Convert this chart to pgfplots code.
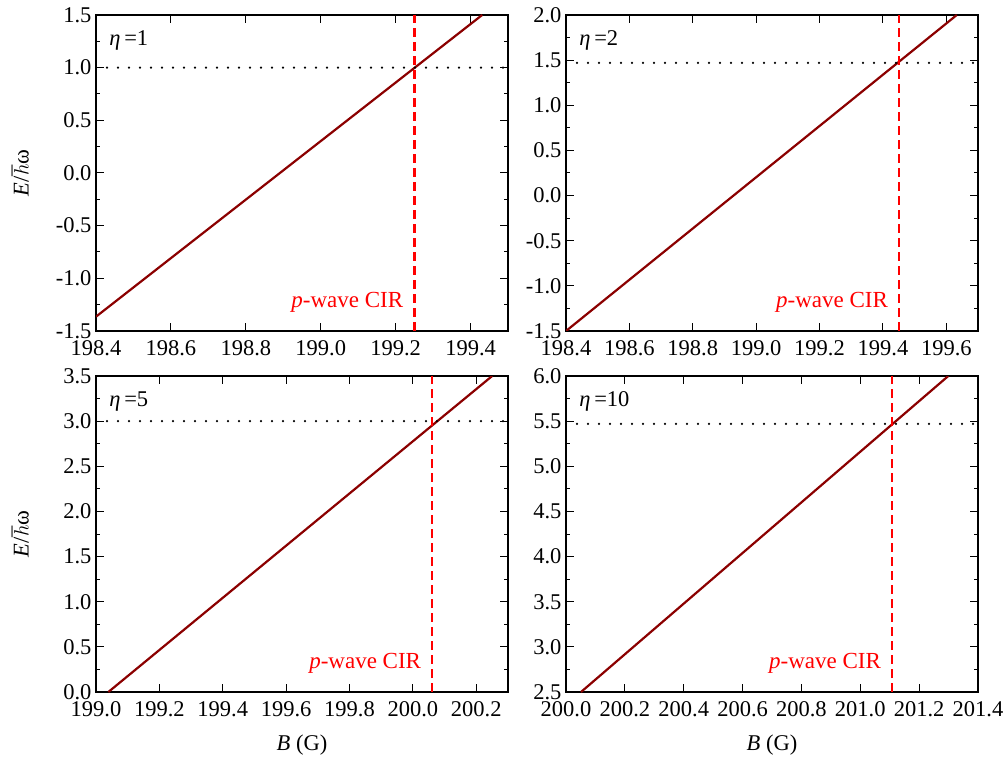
\documentclass[border=0pt]{standalone}
\usepackage{fontspec}
\setmainfont{Liberation Serif}
\usepackage{pgfplots}
\pgfplotsset{compat=1.18}
\definecolor{darkred}{RGB}{139,0,0}
\pgfplotsset{
  panel/.style={
    width=412pt, height=316pt, scale only axis,
    axis line style={line width=1.3pt},
    every tick/.style={black, line width=1pt},
    major tick length=8pt, minor tick length=4.5pt,
    minor tick num=1,
    tick pos=both, tick align=inside,
    /pgf/number format/assume math mode=true,
    tick label style={font=\fontsize{22.5}{26}\selectfont},
    xticklabel style={yshift=-6pt, /pgf/number format/fixed, /pgf/number format/fixed zerofill, /pgf/number format/precision=1},
    yticklabel style={xshift=-1pt, /pgf/number format/fixed, /pgf/number format/fixed zerofill, /pgf/number format/precision=1},
    label style={font=\fontsize{22.5}{26}\selectfont},
    ylabel style={at={(axis description cs:-0.184,0.5)}, anchor=center},
    xlabel style={at={(axis description cs:0.5,-0.168)}, anchor=center},
  },
  eline/.style={darkred, line width=2.2pt},
  hdot/.style={black, line width=2.4pt, line cap=round, dash pattern=on 0pt off 11pt},
  vdash/.style={red, line width=2.4pt, dash pattern=on 9pt off 5pt},
}
\newcommand{\etalabel}[1]{\node[anchor=west, inner sep=0pt, font=\fontsize{22.5}{26}\selectfont] at (rel axis cs:0.032,0.918) {\textit{η}\,=#1};}
\newcommand{\cirlabel}[2]{\node[anchor=east, inner sep=0pt, xshift=-11pt, text=red, font=\fontsize{23}{27}\selectfont] at (axis cs:#1,#2) {\textit{p}-wave CIR};}
\begin{document}
\begin{tikzpicture}
\useasboundingbox (0pt,0pt) rectangle (1006pt,761pt);
% Panel 1
\begin{axis}[panel, at={(96pt,430pt)}, anchor=south west,
  xmin=198.4, xmax=199.5, ymin=-1.5, ymax=1.5,
  xtick={198.4,198.6,...,199.41}, ytick={-1.5,-1.0,...,1.51},
  ylabel={\textit{E}/$\hbar$ω}]
\addplot[eline] coordinates {(198.4,-1.364) (198.9,0.025) (199.431,1.5)};
\addplot[hdot] coordinates {(198.4,1.0) (199.5,1.0)};
\addplot[vdash] coordinates {(199.25,-1.5) (199.25,1.5)};
\etalabel{1}
\cirlabel{199.25}{-1.224}
\end{axis}
% Panel 2
\begin{axis}[panel, at={(566pt,430pt)}, anchor=south west,
  xmin=198.4, xmax=199.7, ymin=-1.5, ymax=2.0,
  xtick={198.4,198.6,...,199.61}, ytick={-1.5,-1.0,...,2.01}]
\addplot[eline] coordinates {(198.4,-1.5) (199.0,0.203) (199.633,2.0)};
\addplot[hdot] coordinates {(198.4,1.47) (199.7,1.47)};
\addplot[vdash] coordinates {(199.451,-1.5) (199.451,2.0)};
\etalabel{2}
\cirlabel{199.451}{-1.178}
\end{axis}
% Panel 3
\begin{axis}[panel, at={(96pt,69pt)}, anchor=south west,
  xmin=199.0, xmax=200.3, ymin=0, ymax=3.5,
  xtick={199.0,199.2,...,200.21}, ytick={0,0.5,...,3.51},
  ylabel={\textit{E}/$\hbar$ω}, xlabel={\textit{B} (G)}]
\addplot[eline] coordinates {(199.039,0) (199.6,1.621) (200.25,3.5)};
\addplot[hdot] coordinates {(199.0,3.0) (200.3,3.0)};
\addplot[vdash] coordinates {(200.061,0) (200.061,3.5)};
\etalabel{5}
\cirlabel{200.061}{0.322}
\end{axis}
% Panel 4
\begin{axis}[panel, at={(566pt,69pt)}, anchor=south west,
  xmin=200.0, xmax=201.4, ymin=2.5, ymax=6.0,
  xtick={200.0,200.2,...,201.41}, ytick={2.5,3.0,...,6.01},
  xlabel={\textit{B} (G)}]
\addplot[eline] coordinates {(200.051,2.5) (200.7,4.32) (201.299,6.0)};
\addplot[hdot] coordinates {(200.0,5.47) (201.4,5.47)};
\addplot[vdash] coordinates {(201.108,2.5) (201.108,6.0)};
\etalabel{10}
\cirlabel{201.108}{2.822}
\end{axis}
\end{tikzpicture}
\end{document}
